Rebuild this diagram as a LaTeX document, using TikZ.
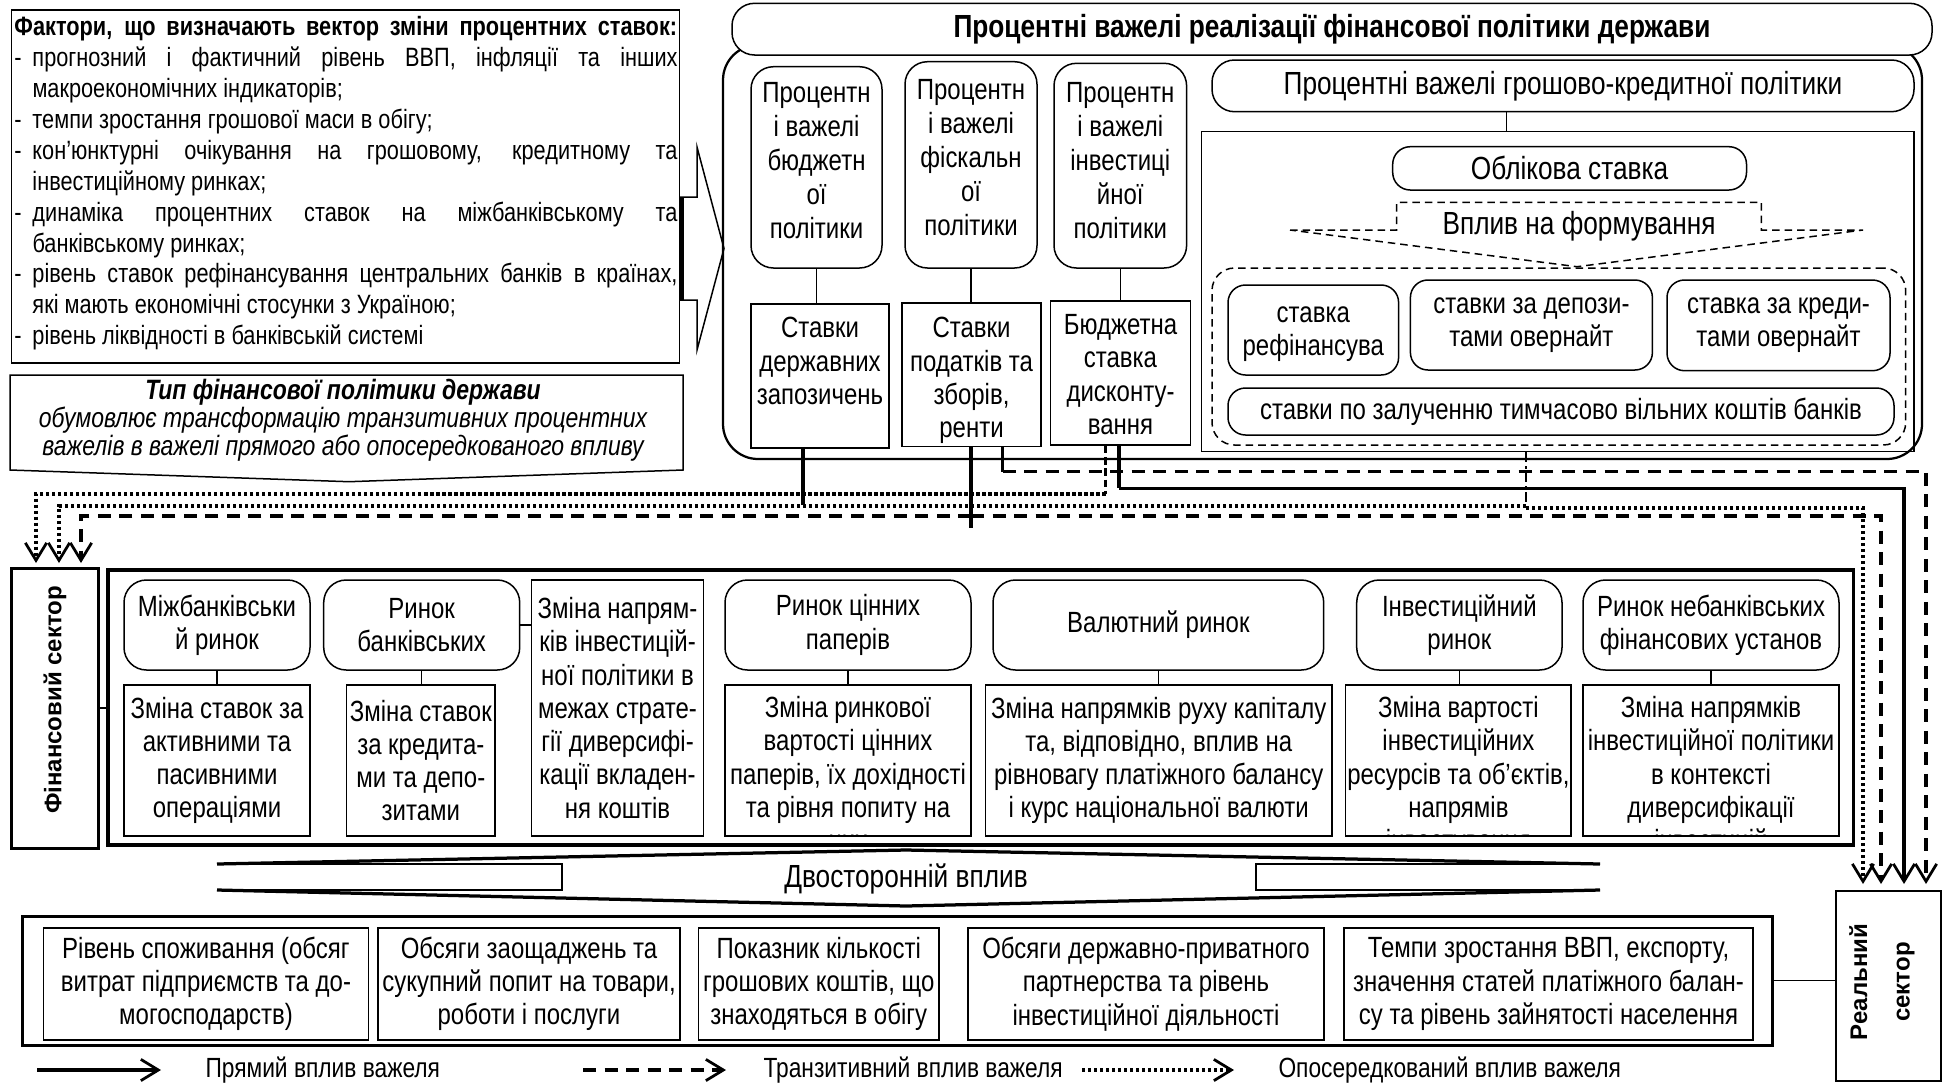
\documentclass[tikz,border=0pt]{standalone}
\usepackage{fontspec}
\setmainfont{Liberation Sans}[FakeStretch=0.82]
\newfontfamily\widefont{Liberation Sans}
\usetikzlibrary{arrows.meta}
\newcommand\fB{\fontsize{11.7}{13.3}\selectfont}
\newcommand\fP{\fontsize{11.7}{13.6}\selectfont}
\newcommand\fBig{\fontsize{12.8}{14}\selectfont}
\newcommand\fL{\fontsize{10.6}{12.36}\selectfont}
\newcommand\fT{\fontsize{11.2}{11.2}\selectfont}
\newcommand\fG{\fontsize{11.1}{13}\selectfont}
\newcommand\fS{\widefont\bfseries\fontsize{9.6}{17}\selectfont}
\newcommand\dl{\makebox[7.2pt][l]{-}}
\newcommand\mybox[7][]{%
  \pgfmathsetmacro\mbw{(#5-#3)*0.4}%
  \pgfmathsetmacro\mbh{(#6-#4)*0.4}%
  \node[#1,minimum width=\mbw pt,minimum height=\mbh pt] (#2) at ({(#3+#5)/2},{(#4+#6)/2}) {#7};}
\tikzset{
  bx/.style={draw,line width=0.6pt,inner sep=0pt,align=center,font=\fB},
  rbx/.style={bx,rounded corners=9pt},
  sbx/.style={bx,rounded corners=7pt},
  tx/.style={inner sep=0pt,align=center,font=\fB},
  thinl/.style={line width=0.6pt},
  solidc/.style={line width=1.4pt},
  dashc/.style={line width=1.4pt,dash pattern=on 5.2pt off 3.4pt},
  dotc/.style={line width=1.4pt,dash pattern=on 1.3pt off 1.1pt},
  arr/.style={-{Straight Barb[length=7pt,width=8.5pt,line width=1.1pt]}},
  fdash/.style={line width=0.6pt,dash pattern=on 3pt off 2pt},
}
\begin{document}
\begin{tikzpicture}[x=0.4pt,y=-0.4pt]
\useasboundingbox (0,0) rectangle (1945,1087);

% ---------- factors box ----------
\mybox[bx]{fact}{11.5}{10}{679.5}{363}{}
\node[anchor=north west,inner sep=0pt,align=left,font=\fL] (facttxt) at (14,16) {%
\makebox[265pt][s]{\bfseries Фактори, що визначають вектор зміни процентних ставок:}\\
\dl\makebox[258pt][s]{прогнозний і фактичний рівень ВВП, інфляції та інших}\\
\hspace*{7.2pt}макроекономічних індикаторів;\\
\dl темпи зростання грошової маси в обігу;\\
\dl\makebox[258pt][s]{кон'юнктурні очікування на грошовому, кредитному та}\\
\hspace*{7.2pt}інвестиційному ринках;\\
\dl\makebox[258pt][s]{динаміка процентних ставок на міжбанківському та}\\
\hspace*{7.2pt}банківському ринках;\\
\dl\makebox[258pt][s]{рівень ставок рефінансування центральних банків в країнах,}\\
\hspace*{7.2pt}які мають економічні стосунки з Україною;\\
\dl рівень ліквідності в банківській системі};
\draw[thinl,fill=white] (679.5,197) -- (697,197) -- (697,147) -- (724,248.5) -- (697,350) -- (697,300) -- (679.5,300);
\draw[line width=2pt] (681.5,197) -- (681.5,300);

% ---------- type box ----------
\draw[thinl] (10,375) -- (683,375) -- (683,470) -- (349,481.7) -- (10,470) -- cycle;
\node[tx,font=\fT\itshape] (tip) at (343,420) {\textbf{Тип фінансової політики держави}\\обумовлює трансформацію транзитивних процентних\\важелів в важелі прямого або опосередкованого впливу};

% ---------- policy area ----------
\mybox[draw,line width=0.9pt,rounded corners=14pt]{outer}{723}{45}{1922}{459}{}
\mybox[rbx,fill=white,font=\fBig\bfseries]{hdr}{732}{3.3}{1932}{55}{Процентні важелі реалізації фінансової політики держави}

\mybox[rbx]{pA}{751}{66.7}{882}{268}{}
\mybox[rbx]{pB}{905}{61.7}{1037}{268}{}
\mybox[rbx]{pC}{1054}{63.3}{1186.6}{268}{}
\node[tx,font=\fP] (pAt) at (816.5,161) {Процентн\\і важелі\\бюджетн\\ої\\політики};
\node[tx,font=\fP] (pBt) at (971,157.5) {Процентн\\і важелі\\фіскальн\\ої\\політики};
\node[tx,font=\fP] (pCt) at (1120.3,161) {Процентн\\і важелі\\інвестиці\\йної\\політики};
\mybox[bx]{qA}{751}{304}{889}{448}{}
\mybox[bx]{qB}{902}{303}{1041}{446.7}{}
\mybox[bx]{qC}{1050.6}{301}{1190.5}{445}{}
\node[tx,anchor=north] (qAt) at (820,317) {Ставки\\державних\\запозичень};
\node[tx,anchor=north] (qBt) at (971.5,317) {Ставки\\податків та\\зборів,\\ренти};
\node[tx,anchor=north] (qCt) at (1120.5,314) {Бюджетна\\ставка\\дисконту-\\вання};
\draw[thinl] (pA.south) -- (pA.south |- qA.north);
\draw[thinl] (pB.south) -- (pB.south |- qB.north);
\draw[thinl] (pC.south) -- (pC.south |- qC.north);

% monetary
\mybox[rbx,font=\fBig]{mh}{1212}{60}{1914}{111.7}{Процентні важелі грошово-кредитної політики}
\mybox[bx]{mr}{1201.6}{131.7}{1914}{451.7}{}
\coordinate (mx) at (1506.5,0);
\draw[thinl] (mh.south -| mx) -- (mr.north -| mx);
\mybox[sbx,font=\fBig]{ob}{1392.7}{146.7}{1746.5}{190}{Облікова ставка}
\draw[fdash] (1290,230) -- (1396.7,230) -- (1396.7,202.3) -- (1761.4,202.3) -- (1761.4,230) -- (1863,230) -- (1577,266.7) -- cycle;
\node[tx,font=\fBig] (vp) at (1579,226.7) {Вплив на формування};
\mybox[fdash,draw,rounded corners=9pt]{dc}{1212}{268}{1905.7}{445}{}
\mybox[sbx]{r1}{1228}{285}{1398.6}{375}{}
\node[tx] (r1t) at (1313.3,334) {ставка\\рефінансува};
\mybox[sbx]{r2}{1410.4}{280}{1652.4}{370}{ставки за депози-\\тами овернайт}
\mybox[sbx]{r3}{1667}{280}{1890}{370.7}{ставка за креди-\\тами овернайт}
\mybox[sbx]{r4}{1228}{388}{1894}{435}{ставки по залученню тимчасово вільних коштів банків}

% ---------- financial sector ----------
\mybox[bx,line width=1.2pt]{fin}{11.5}{568}{98.7}{848}{}
\node[rotate=90,font=\fS,inner sep=0pt] (fint) at (55,700) {Фінансовий сектор};
\mybox[bx,line width=1.4pt]{fc}{108}{570}{1853.5}{845}{}
\draw[thinl] (fin.east) -- (fin.east -| fc.west);

\mybox[rbx]{m1}{124}{580}{310}{670}{Міжбанківськи\\й ринок}
\mybox[bx]{n1}{124}{685}{310}{836}{Зміна ставок за\\активними та\\пасивними\\операціями}
\mybox[rbx]{m2}{323.7}{580}{519.7}{670}{Ринок\\банківських}
\mybox[bx]{n2}{346.6}{685}{495}{836}{Зміна ставок\\за кредита-\\ми та депо-\\зитами}
\mybox[bx]{n3}{531.7}{580}{703.4}{836}{Зміна напрям-\\ків інвестицій-\\ної політики в\\межах страте-\\гії диверсифі-\\кації вкладен-\\ня коштів}
\mybox[rbx]{m4}{725}{580}{971}{670}{Ринок цінних\\паперів}
\mybox[bx]{n4}{725}{685}{971}{836}{}
\mybox[rbx]{m5}{993}{580}{1323.7}{670}{Валютний ринок}
\mybox[bx]{n5}{985.7}{685}{1331.8}{836}{Зміна напрямків руху капіталу\\та, відповідно, вплив на\\рівновагу платіжного балансу\\і курс національної валюти}
\mybox[rbx]{m6}{1356.7}{580}{1562}{670}{Інвестиційний\\ринок}
\mybox[bx]{n6}{1345.7}{685}{1571}{836}{}
\mybox[rbx]{m7}{1583}{580}{1839}{670}{Ринок небанківських\\фінансових установ}
\mybox[bx]{n7}{1583}{685}{1839}{836}{}
\begin{scope}
\clip (n4.south west) rectangle (n4.north east);
\node[tx,anchor=north] (n4t) at (848,696) {Зміна ринкової\\вартості цінних\\паперів, їх дохідності\\та рівня попиту на\\них};
\end{scope}
\begin{scope}
\clip (n6.south west) rectangle (n6.north east);
\node[tx,anchor=north] (n6t) at (1458.4,696) {Зміна вартості\\інвестиційних\\ресурсів та об’єктів,\\напрямів\\інвестування};
\end{scope}
\begin{scope}
\clip (n7.south west) rectangle (n7.north east);
\node[tx,anchor=north] (n7t) at (1711,696) {Зміна напрямків\\інвестиційної політики\\в контексті\\диверсифікації\\інвестицій};
\end{scope}
\foreach \i in {1,2,4,5,6,7}{\draw[thinl] (m\i.south) -- (m\i.south |- n\i.north);}
\draw[thinl] (m2.east) -- (m2.east -| n3.west);

% ---------- connectors ----------
\coordinate (xa) at (803,0);
\coordinate (xb1) at (971,0);
\coordinate (xb2) at (1002.7,0);
\coordinate (xc1) at (1105.5,0);
\coordinate (xc2) at (1119,0);
\coordinate (xm) at (1526,0);
\draw[solidc] (qA.south -| xa) -- (803,505);
\draw[solidc] (qB.south -| xb1) -- (971,528);
\draw[solidc] (qB.south -| xb2) -- (1002.7,471.7);
\draw[dashc,arr] (1002.7,471.7) -- (1926,471.7) -- (1926,884);
\draw[line width=1pt,dash pattern=on 3pt off 1.5pt] (qC.south -| xc1) -- (1105.5,494);
\draw[dotc,arr] (1105.5,494) -- (36,494) -- (36,563);
\draw[solidc] (qC.south -| xc2) -- (1119,488.3);
\draw[solidc,arr] (1119,488.3) -- (1904,488.3) -- (1904,884);
\draw[line width=0.8pt,dash pattern=on 4pt off 1.5pt on 1pt off 1.5pt] (mr.south -| xm) -- (1526,506);
\draw[dotc,arr] (1526,506) -- (59,506) -- (59,563);
\draw[dotc,arr] (1526,508) -- (1863,508) -- (1863,884);
\draw[dashc,arr] (971,516) -- (81,516) -- (81,563);
\draw[dashc,arr] (971,516) -- (1881,516) -- (1881,884);

% ---------- two-way influence ----------
\draw[line width=1.3pt] (217,864) -- (906,850) -- (1600,864);
\draw[line width=1.3pt] (217,890) -- (906,906) -- (1600,890);
\draw[line width=0.8pt] (217,864) -- (562,864) -- (562,890) -- (217,890);
\draw[line width=0.8pt] (1600,864) -- (1255.6,864) -- (1255.6,890) -- (1600,890);
\node[tx,font=\fBig] (dv) at (906,879) {Двосторонній вплив};

% ---------- real sector ----------
\mybox[bx,line width=1.2pt]{bc}{22}{916}{1772}{1045}{}
\mybox[bx]{b1}{43.4}{928}{368.5}{1040}{Рівень споживання (обсяг\\витрат підприємств та до-\\могосподарств)}
\mybox[bx]{b2}{378}{928}{680}{1040}{Обсяги заощаджень та\\сукупний попит на товари,\\роботи і послуги}
\mybox[bx]{b3}{698.5}{928}{939}{1040}{Показник кількості\\грошових коштів, що\\знаходяться в обігу}
\mybox[bx]{b4}{968}{928}{1324}{1040}{Обсяги державно-приватного\\партнерства та рівень\\інвестиційної діяльності}
\mybox[bx]{b5}{1344}{928}{1753}{1040}{Темпи зростання ВВП, експорту,\\значення статей платіжного балан-\\су та рівень зайнятості населення}
\mybox[bx,line width=1pt]{rs}{1836}{891}{1941}{1081}{}
\node[rotate=90,font=\fS,align=center,inner sep=0pt] (rst) at (1882,982) {Реальний\\сектор};
\draw[thinl] (bc.east) -- (bc.east -| rs.west);

% ---------- legend ----------
\coordinate (l1a) at (37,1070); \coordinate (l1b) at (161,1070);
\coordinate (l2a) at (583,1070); \coordinate (l2b) at (726,1070);
\coordinate (l3a) at (1082,1070); \coordinate (l3b) at (1234,1070);
\draw[line width=1.8pt,arr] (l1a) -- (l1b);
\draw[dashc,arr] (l2a) -- (l2b);
\draw[dotc,arr] (l3a) -- (l3b);
\node[tx,font=\fG,anchor=west] (l1t) at (205,1070) {Прямий вплив важеля};
\node[tx,font=\fG,anchor=west] (l2t) at (763,1070) {Транзитивний вплив важеля};
\node[tx,font=\fG,anchor=west] (l3t) at (1278,1070) {Опосередкований вплив важеля};
\end{tikzpicture}
\end{document}
